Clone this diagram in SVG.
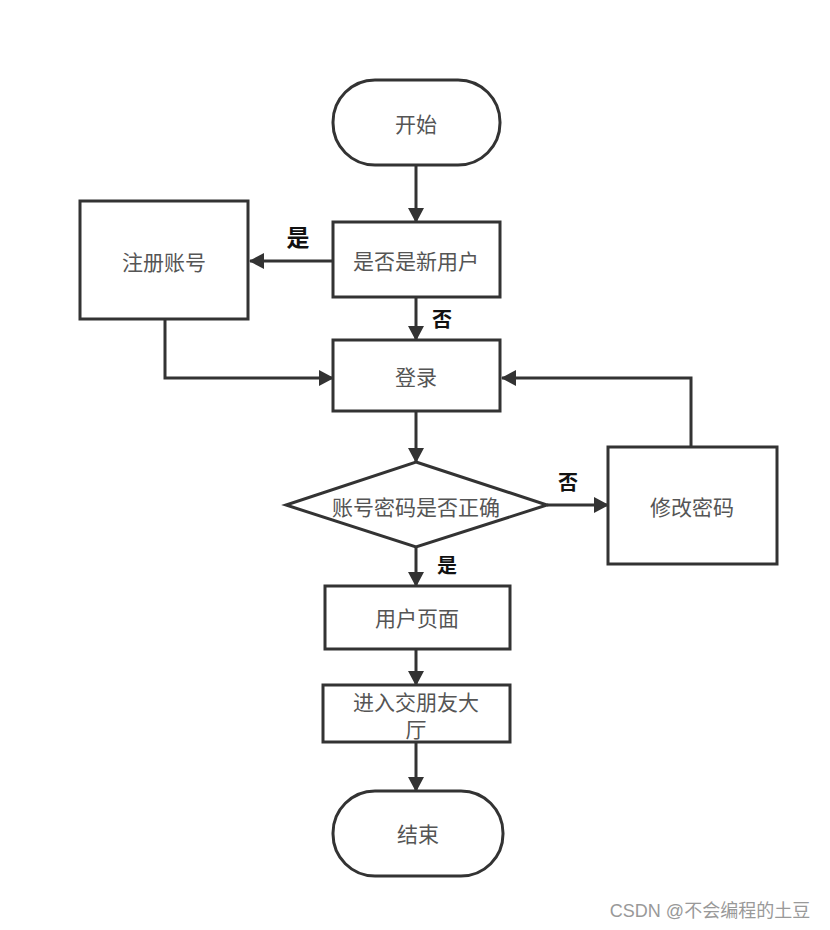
<svg xmlns="http://www.w3.org/2000/svg" width="830" height="930" viewBox="0 0 830 930">
<defs>
<marker id="ah" markerWidth="15" markerHeight="16" refX="14" refY="8" orient="auto" markerUnits="userSpaceOnUse" viewBox="0 0 15 16">
<path d="M0,0 L15,8 L0,16 z" fill="#333"/>
</marker>
<style>
.box{fill:#fff;stroke:#333;stroke-width:3}
.t{font-family:"Liberation Sans","Noto Sans CJK SC",sans-serif;font-size:21px;fill:#555;text-anchor:middle;dominant-baseline:central}
.lb{font-family:"Liberation Sans","Noto Sans CJK SC",sans-serif;font-size:20px;fill:#111;font-weight:bold;text-anchor:middle;dominant-baseline:central}
.c{fill:none;stroke:#333;stroke-width:3;marker-end:url(#ah)}
</style>
</defs>
<rect width="830" height="930" fill="#fff"/>
<g id="connectors">
<path class="c" d="M416,165 V222"/>
<path class="c" d="M333,261 H250"/>
<path class="c" d="M416,297 V340"/>
<path class="c" d="M165,319 V378 H333"/>
<path class="c" d="M691,447 V378 H502"/>
<path class="c" d="M416,411 V462"/>
<path class="c" d="M547,505 H608"/>
<path class="c" d="M416,547 V586"/>
<path class="c" d="M416,649 V685"/>
<path class="c" d="M416,742 V791"/>
<text class="lb" x="298" y="238" style="font-size:23px">是</text>
<text class="lb" x="442" y="320">否</text>
<text class="lb" x="568" y="483">否</text>
<text class="lb" x="447" y="566">是</text>
</g>
<g id="start"><rect class="box" x="333" y="80" width="167" height="85" rx="42" ry="42"/><text class="t" x="416" y="124">开始</text></g>
<g id="isNew"><rect class="box" x="333" y="222" width="167" height="75"/><text class="t" x="416" y="261">是否是新用户</text></g>
<g id="register"><rect class="box" x="80" y="201" width="168" height="118"/><text class="t" x="164" y="262">注册账号</text></g>
<g id="login"><rect class="box" x="333" y="340" width="167" height="71"/><text class="t" x="416" y="377">登录</text></g>
<g id="check"><polygon class="box" points="416,462 547,505 416,547 286,505"/><text class="t" x="416" y="507">账号密码是否正确</text></g>
<g id="changePwd"><rect class="box" x="608" y="447" width="169" height="117"/><text class="t" x="692" y="507">修改密码</text></g>
<g id="userPage"><rect class="box" x="325" y="586" width="185" height="63"/><text class="t" x="417" y="618">用户页面</text></g>
<g id="lobby"><rect class="box" x="323" y="685" width="187" height="57"/><text class="t" x="416" y="702">进入交朋友大</text><text class="t" x="416" y="729">厅</text></g>
<g id="end"><rect class="box" x="333" y="791" width="170" height="85" rx="42" ry="42"/><text class="t" x="418" y="834">结束</text></g>
<text x="710" y="911" style="font-family:'Liberation Sans','Noto Sans CJK SC',sans-serif;font-size:18px;fill:#999;text-anchor:middle;dominant-baseline:central">CSDN @不会编程的土豆</text>
</svg>
